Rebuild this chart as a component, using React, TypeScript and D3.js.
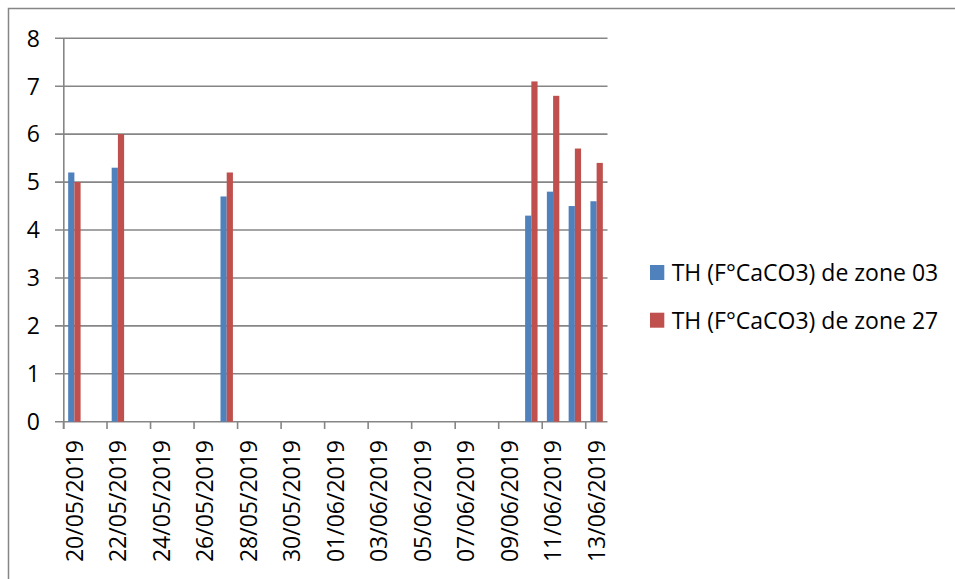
import React from "react";
import * as d3 from "d3";

const sampleDates = ["2019-05-20", "2019-05-22", "2019-05-27", "2019-06-10", "2019-06-11", "2019-06-12", "2019-06-13"];
const zone03 = [5.2, 5.3, 4.7, 4.3, 4.8, 4.5, 4.6];
const zone27 = [5.0, 6.0, 5.2, 7.1, 6.8, 5.7, 5.4];
const seriesNames = ["TH (F°CaCO3) de zone 03", "TH (F°CaCO3) de zone 27"];
const seriesColors = ["#4F81BD", "#C0504D"];
const yTicks = [0, 1, 2, 3, 4, 5, 6, 7, 8];
const axisStart = "2019-05-20";
const axisEnd = "2019-06-14";

const W = 955;
const H = 579;
const FONT = "'Open Sans', sans-serif";
const FS = 23;
const GRID = "#868686";

const parse = d3.timeParse("%Y-%m-%d");
const fmt = d3.timeFormat("%d/%m/%Y");
const key = d3.timeFormat("%Y-%m-%d");

export default function App() {
  const days = d3.timeDay.range(parse(axisStart)!, parse(axisEnd)!);
  const dayKeys = days.map((d) => key(d));
  const x = d3.scaleBand<string>().domain(dayKeys).range([63.5, 607.5]).paddingInner(0).paddingOuter(0);
  const y = d3.scaleLinear().domain([0, 8]).range([421.7, 38.3]);
  const bw = x.bandwidth() / 3.5;
  const off = (x.bandwidth() - 2 * bw) / 2;
  const tickDays = dayKeys.filter((_, i) => i % 2 === 0);
  const series = [zone03, zone27];

  return (
    <svg width={W} height={H} style={{ position: "absolute", left: 0, top: 0 }} fontFamily={FONT}>
      <rect x={0} y={0} width={W} height={H} fill="#fff" />
      <rect x={8.5} y={8.5} width={980} height={620} fill="none" stroke={GRID} strokeWidth={1.5} />
      {yTicks.map((t) => (
        <g key={t}>
          <line x1={55} x2={607.5} y1={y(t)} y2={y(t)} stroke={GRID} strokeWidth={1.6} />
          <text x={40} y={y(t)} dy="0.36em" textAnchor="end" fontSize={FS} fill="#000">
            {t}
          </text>
        </g>
      ))}
      <line x1={63.8} x2={63.8} y1={38.3} y2={429} stroke={GRID} strokeWidth={1.6} />
      {tickDays.map((d) => (
        <g key={d}>
          <line x1={x(d)!} x2={x(d)!} y1={421.7} y2={429} stroke={GRID} strokeWidth={1.6} />
          <text
            transform={`translate(${x(d)! + x.bandwidth() / 2},440) rotate(-90)`}
            dy="0.36em"
            textAnchor="end"
            fontSize={FS}
            fill="#000"
          >
            {fmt(parse(d)!)}
          </text>
        </g>
      ))}
      {series.map((vals, si) =>
        vals.map((v, i) => (
          <rect
            key={`${si}-${i}`}
            x={x(sampleDates[i])! + off + si * bw}
            y={y(v)}
            width={bw}
            height={y(0) - y(v)}
            fill={seriesColors[si]}
          />
        ))
      )}
      {seriesNames.map((n, i) => (
        <g key={n} transform={`translate(650,${265 + i * 47.7})`}>
          <rect x={0} y={0} width={14.3} height={15} fill={seriesColors[i]} />
          <text x={21.7} y={16} fontSize={FS} fill="#000">
            {n}
          </text>
        </g>
      ))}
    </svg>
  );
}
